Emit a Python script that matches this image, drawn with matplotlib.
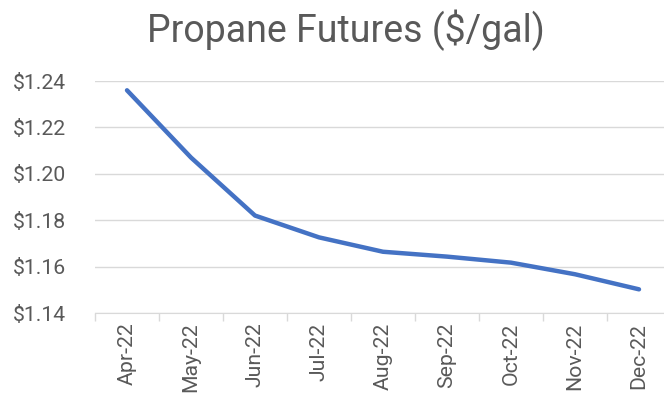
import matplotlib.pyplot as plt
from matplotlib.ticker import FuncFormatter, FixedLocator

plt.rcParams['font.family'] = ['Roboto', 'DejaVu Sans']

months = ['Apr-22', 'May-22', 'Jun-22', 'Jul-22', 'Aug-22', 'Sep-22', 'Oct-22', 'Nov-22', 'Dec-22']
prices = [1.236, 1.207, 1.182, 1.1726, 1.1664, 1.1643, 1.1617, 1.1567, 1.1502]

W, H = 664, 405
fig = plt.figure(figsize=(W / 100, H / 100), dpi=100)
# plot area: x 95..671 px (right edge clipped by the figure), y 81..313 px
ax = fig.add_axes([95 / W, (H - 313) / H, 576 / W, 232 / H])

x = list(range(len(months)))
ax.plot(x, prices, color='#4472C4', linewidth=3.2, solid_capstyle='round', solid_joinstyle='round')

ax.set_xlim(-0.5, len(months) - 0.5)
ax.set_ylim(1.14, 1.24)
ax.set_yticks([1.14, 1.16, 1.18, 1.20, 1.22, 1.24])
ax.yaxis.set_major_formatter(FuncFormatter(lambda v, p: f'${v:.2f}'))
ax.grid(axis='y', color='#D9D9D9', linewidth=1)
ax.set_axisbelow(True)

ax.set_xticks(x)
ax.set_xticklabels(months, rotation=90)
ax.xaxis.set_minor_locator(FixedLocator([i - 0.5 for i in range(len(months) + 1)]))
ax.tick_params(axis='x', which='major', length=0, pad=7, labelsize=15.3, labelcolor='#595959')
ax.tick_params(axis='x', which='minor', length=6, color='#D9D9D9', width=1)
ax.tick_params(axis='y', length=0, pad=21, labelsize=15.3, labelcolor='#595959')

for s in ['top', 'right', 'left']:
    ax.spines[s].set_visible(False)
ax.spines['bottom'].set_color('#D9D9D9')

fig.text(0.5206, 1 - 42 / H, 'Propane Futures ($/gal)', ha='center', va='baseline', fontsize=27, color='#595959')

fig.savefig('out.png', dpi=100)
